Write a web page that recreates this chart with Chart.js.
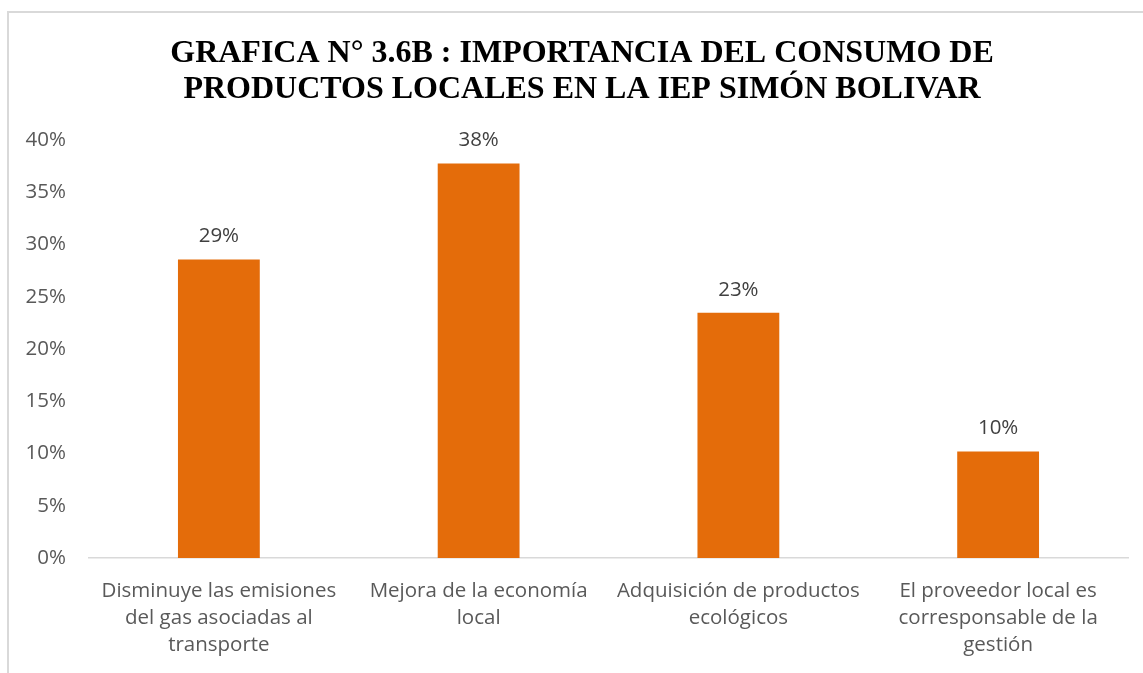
<!DOCTYPE html>
<html>
<head>
<meta charset="utf-8">
<script src="https://cdn.jsdelivr.net/npm/chart.js@4.4.1/dist/chart.umd.min.js"></script>
<style>
  html, body { margin: 0; padding: 0; background: #fff; overflow: hidden; }
  #frame { position: absolute; left: 7px; top: 11px; width: 1200px; height: 720px;
           border-left: 2px solid #d9d9d9; border-top: 2px solid #d9d9d9; }
  #wrap { position: absolute; left: 0; top: 0; width: 1143px; height: 673px; }
</style>
</head>
<body>
<div id="frame"></div>
<div id="wrap"><canvas id="c" width="1143" height="673"></canvas></div>
<script>
const titleLines = ["GRAFICA N° 3.6B : IMPORTANCIA DEL CONSUMO DE", "PRODUCTOS LOCALES EN LA IEP SIMÓN BOLIVAR"];
const categories = [
  ["Disminuye las emisiones", "del gas asociadas al", "transporte"],
  ["Mejora de la economía", "local"],
  ["Adquisición de productos", "ecológicos"],
  ["El proveedor local es", "corresponsable de la", "gestión"]
];
const values = [28.57, 37.76, 23.47, 10.20];
const valueLabels = ["29%", "38%", "23%", "10%"];
const yTicks = [0, 5, 10, 15, 20, 25, 30, 35, 40];

const labelFont = "'Open Sans', 'Noto Sans', sans-serif";
const labelSize = 20.5;

const titlePlugin = {
  id: 'offsetTitle',
  afterDraw(chart) {
    const ctx = chart.ctx;
    ctx.save();
    ctx.font = "bold 32px 'Liberation Serif', 'Times New Roman', serif";
    ctx.fillStyle = '#000000';
    ctx.textAlign = 'center';
    ctx.textBaseline = 'alphabetic';
    ctx.fillText(titleLines[0], 582, 62);
    ctx.fillText(titleLines[1], 582, 98);
    ctx.restore();
  }
};

const dataLabelPlugin = {
  id: 'dataLabels',
  afterDatasetsDraw(chart) {
    const ctx = chart.ctx;
    const meta = chart.getDatasetMeta(0);
    ctx.save();
    ctx.font = labelSize + "px " + labelFont;
    ctx.fillStyle = '#404040';
    ctx.textAlign = 'center';
    ctx.textBaseline = 'alphabetic';
    meta.data.forEach((bar, i) => {
      ctx.fillText(valueLabels[i], bar.x, bar.y - 17);
    });
    ctx.restore();
  }
};

new Chart(document.getElementById('c'), {
  type: 'bar',
  data: {
    labels: categories,
    datasets: [{
      data: values,
      backgroundColor: '#E46C0A',
      borderWidth: 0,
      categoryPercentage: 1.0,
      barPercentage: 0.315
    }]
  },
  options: {
    responsive: false,
    animation: false,
    devicePixelRatio: 1,
    layout: { padding: { left: 0, right: 15, top: 140, bottom: 0 } },
    plugins: {
      legend: { display: false },
      tooltip: { enabled: false },
      title: { display: false }
    },
    scales: {
      x: {
        grid: { display: false, drawTicks: false },
        border: { display: true, color: '#d9d9d9', width: 1.5 },
        ticks: {
          color: '#595959',
          font: { family: labelFont, size: labelSize, lineHeight: 1.32 },
          padding: 20,
          maxRotation: 0,
          autoSkip: false
        },
        afterFit(scale) { scale.height = 673 - 558; }
      },
      y: {
        min: 0,
        max: 40,
        grid: { display: false, drawTicks: false },
        border: { display: false },
        afterBuildTicks(scale) { scale.ticks = yTicks.map(v => ({ value: v })); },
        ticks: {
          color: '#595959',
          font: { family: labelFont, size: labelSize },
          padding: 23,
          callback: v => v + '%'
        },
        afterFit(scale) { scale.width = 89; }
      }
    }
  },
  plugins: [dataLabelPlugin, titlePlugin]
});
</script>
</body>
</html>
